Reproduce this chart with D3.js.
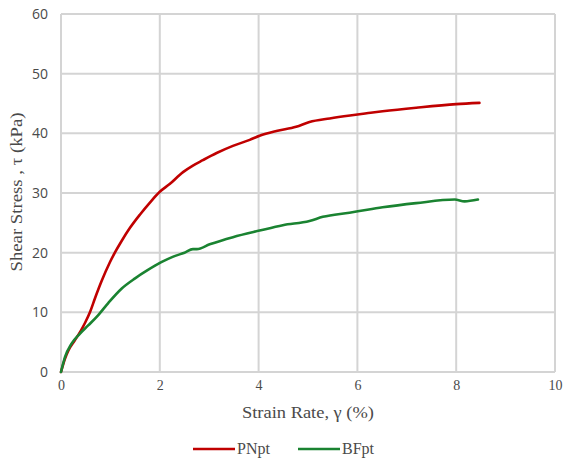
<!DOCTYPE html>
<html>
<head>
<meta charset="utf-8">
<script src="https://cdn.jsdelivr.net/npm/d3@7"></script>
<style>
  html, body { margin: 0; padding: 0; background: #fff; }
  svg { display: block; }
</style>
</head>
<body>
<svg id="chart" width="563" height="463"></svg>
<script>
// ---- data ----
const seriesNames = ["PNpt", "BFpt"];
const pnptStrain = [0, 0.08, 0.15, 0.28, 0.4, 0.49, 0.59, 0.69, 0.82, 0.99, 1.09, 1.23, 1.4, 1.6, 1.8, 2.0, 2.2, 2.47, 2.67, 2.87, 3.15, 3.48, 3.82, 4.02, 4.36, 4.76, 5.03, 5.44, 5.85, 6.22, 6.51, 7.19, 8.0, 8.47];
const pnptStress = [0, 2.2, 3.6, 5.3, 6.9, 8.3, 10.1, 12.4, 15.2, 18.4, 20.0, 22.0, 24.2, 26.4, 28.4, 30.2, 31.5, 33.5, 34.6, 35.5, 36.7, 37.9, 38.9, 39.6, 40.4, 41.1, 41.9, 42.5, 43.0, 43.4, 43.7, 44.3, 44.9, 45.1];
const bfptStrain = [0, 0.08, 0.21, 0.38, 0.55, 0.75, 0.96, 1.23, 1.5, 1.76, 2.03, 2.26, 2.5, 2.67, 2.75, 3.01, 3.48, 4.02, 4.49, 5.03, 5.3, 5.84, 6.2, 6.51, 7.19, 7.97, 8.17, 8.44];
const bfptStress = [0, 2.5, 4.7, 6.4, 7.8, 9.5, 11.6, 14.0, 15.7, 17.1, 18.4, 19.3, 20.0, 20.6, 20.6, 21.4, 22.6, 23.7, 24.6, 25.3, 26.0, 26.7, 27.2, 27.6, 28.3, 28.9, 28.6, 28.9];
const xTicks = [0, 2, 4, 6, 8, 10];
const yTicks = [0, 10, 20, 30, 40, 50, 60];
const xTitle = "Strain Rate, γ (%)";
const yTitle = "Shear Stress , τ (kPa)";

// ---- drawing ----
const svg = d3.select("#chart");
const x = d3.scaleLinear().domain([0, 10]).range([61, 555]);
const y = d3.scaleLinear().domain([0, 60]).range([372, 14]);
const colors = ["#c00000", "#1a8331"];
const serif = "'Liberation Serif', 'Times New Roman', serif";
const sans = "'Open Sans', 'DejaVu Sans', sans-serif";

// gridlines
const grid = svg.append("g");
grid.selectAll("line.h").data(yTicks).join("line")
  .attr("x1", x(0)).attr("x2", x(10))
  .attr("y1", d => y(d)).attr("y2", d => y(d))
  .attr("stroke", "#d4d4d4").attr("stroke-width", 2);
grid.selectAll("line.v").data(xTicks).join("line")
  .attr("y1", y(0)).attr("y2", y(60))
  .attr("x1", d => x(d)).attr("x2", d => x(d))
  .attr("stroke", "#d4d4d4").attr("stroke-width", 2);

// axes (labels only)
const xAxis = svg.append("g").attr("transform", `translate(0,${y(0)})`)
  .call(d3.axisBottom(x).tickValues(xTicks).tickSize(0).tickPadding(8).tickFormat(d3.format("d")));
xAxis.select(".domain").remove();
xAxis.selectAll("text").attr("font-family", serif).attr("font-size", 14).attr("fill", "#4a4a4a");

const yAxis = svg.append("g").attr("transform", `translate(${x(0)},0)`)
  .call(d3.axisLeft(y).tickValues(yTicks).tickSize(0).tickPadding(13).tickFormat(d3.format("d")));
yAxis.select(".domain").remove();
yAxis.selectAll("text").attr("font-family", sans).attr("font-size", 14).attr("fill", "#4a4a4a");

// lines
const line = d3.line().x(d => x(d[0])).y(d => y(d[1])).curve(d3.curveMonotoneX);
const series = [
  d3.zip(pnptStrain, pnptStress),
  d3.zip(bfptStrain, bfptStress)
];
svg.append("g").selectAll("path").data(series).join("path")
  .attr("d", line)
  .attr("fill", "none")
  .attr("stroke", (d, i) => colors[i])
  .attr("stroke-width", 2.6)
  .attr("stroke-linejoin", "round")
  .attr("stroke-linecap", "round");

// titles
svg.append("text")
  .attr("x", 308).attr("y", 418)
  .attr("text-anchor", "middle")
  .attr("font-family", serif).attr("font-size", 16).attr("fill", "#4a4a4a")
  .attr("textLength", 132).attr("lengthAdjust", "spacingAndGlyphs")
  .text(xTitle);
svg.append("text")
  .attr("transform", "translate(22,192) rotate(-90)")
  .attr("text-anchor", "middle")
  .attr("font-family", serif).attr("font-size", 16).attr("fill", "#4a4a4a")
  .attr("textLength", 159).attr("lengthAdjust", "spacingAndGlyphs")
  .text(yTitle);

// legend
const legendX = [193, 298];
const lg = svg.append("g").selectAll("g").data(seriesNames).join("g")
  .attr("transform", (d, i) => `translate(${legendX[i]},449)`);
lg.append("line").attr("x1", 0).attr("x2", 42).attr("y1", 0).attr("y2", 0)
  .attr("stroke", (d, i) => colors[i]).attr("stroke-width", 2.6);
lg.append("text").attr("x", 44).attr("y", 5)
  .attr("font-family", serif).attr("font-size", 16).attr("fill", "#4a4a4a")
  .text(d => d);
</script>
</body>
</html>
